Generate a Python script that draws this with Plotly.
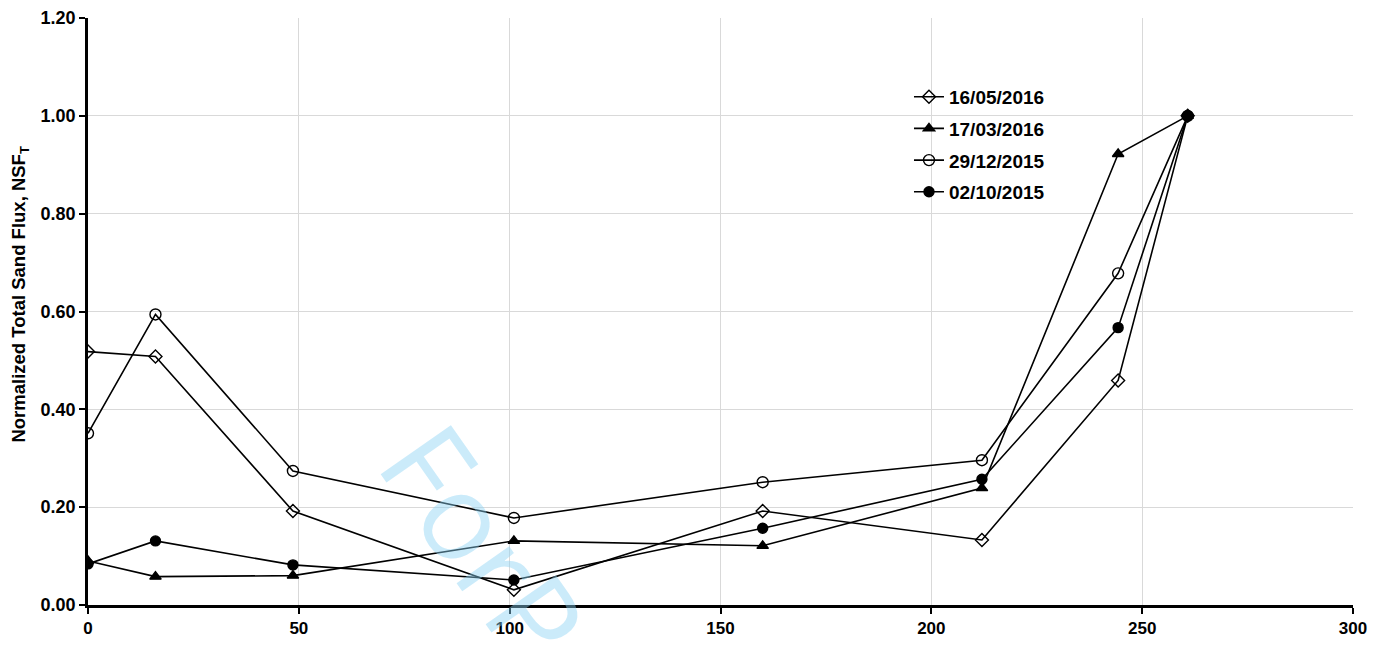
import plotly.graph_objects as go

distance = [0, 16, 48.6, 101, 160, 212, 244.3, 260.8]

s_160516 = [0.518, 0.508, 0.192, 0.031, 0.192, 0.133, 0.459, 1.0]
s_170316 = [0.090, 0.058, 0.060, 0.131, 0.121, 0.239, 0.922, 1.0]
s_291215 = [0.351, 0.594, 0.274, 0.178, 0.251, 0.296, 0.678, 1.0]
s_021015 = [0.084, 0.131, 0.082, 0.051, 0.157, 0.257, 0.567, 1.0]

series = [
    ("16/05/2016", s_160516, "diamond-open", 10),
    ("17/03/2016", s_170316, "triangle-up", 10),
    ("29/12/2015", s_291215, "circle-open", 11),
    ("02/10/2015", s_021015, "circle", 10),
]

fig = go.Figure()
for i, (name, vals, sym, sz) in enumerate(series):
    fig.add_trace(go.Scatter(
        x=distance, y=vals, name=name, mode="lines+markers", legendgroup=f"g{i}",
        line=dict(color="black", width=1.6),
        marker=dict(symbol=sym, size=sz, color="black",
                    line=dict(color="black", width=1.4)),
    ))

font = "Liberation Sans"
fig.add_annotation(
    text="ForP", x=0.314, y=0.107, xref="paper", yref="paper", showarrow=False,
    xanchor="center", yanchor="middle",
    textangle=55, font=dict(family="Open Sans", size=120, color="rgba(140,210,245,0.45)"),
)
fig.add_annotation(
    text="Normalized Total Sand Flux, NSF<sub>T</sub>", x=-0.054, y=0.53,
    xref="paper", yref="paper", showarrow=False, xanchor="center", yanchor="middle",
    textangle=-90, font=dict(size=18.5, family=font, weight="bold", color="black"),
)

fig.update_layout(
    width=1387, height=647,
    margin=dict(l=80, r=42, t=10, b=50),
    paper_bgcolor="white", plot_bgcolor="white",
    font=dict(family=font, color="black"),
    showlegend=True,
    legend=dict(x=0.649, y=0.898, xanchor="left", yanchor="top",
                bgcolor="rgba(0,0,0,0)", font=dict(size=19, family=font, weight="bold"),
                itemwidth=30, tracegroupgap=4),
    xaxis=dict(range=[0, 300], tickvals=[0, 50, 100, 150, 200, 250, 300],
               showgrid=True, gridcolor="#d9d9d9", gridwidth=1,
               showline=True, linecolor="black", linewidth=2.5,
               ticks="outside", ticklen=6, tickwidth=2, tickcolor="black",
               tickfont=dict(size=17, family=font, weight="bold"), zeroline=False,
               automargin=False),
    yaxis=dict(range=[0, 1.2], tickvals=[0, 0.2, 0.4, 0.6, 0.8, 1.0, 1.2],
               tickformat=".2f",
               showgrid=True, gridcolor="#d9d9d9", gridwidth=1,
               showline=True, linecolor="black", linewidth=2.5,
               ticks="outside", ticklen=6, tickwidth=2, tickcolor="black",
               tickfont=dict(size=18, family=font, weight="bold"), zeroline=False,
               automargin=False),
)

fig.write_html("out.html")
